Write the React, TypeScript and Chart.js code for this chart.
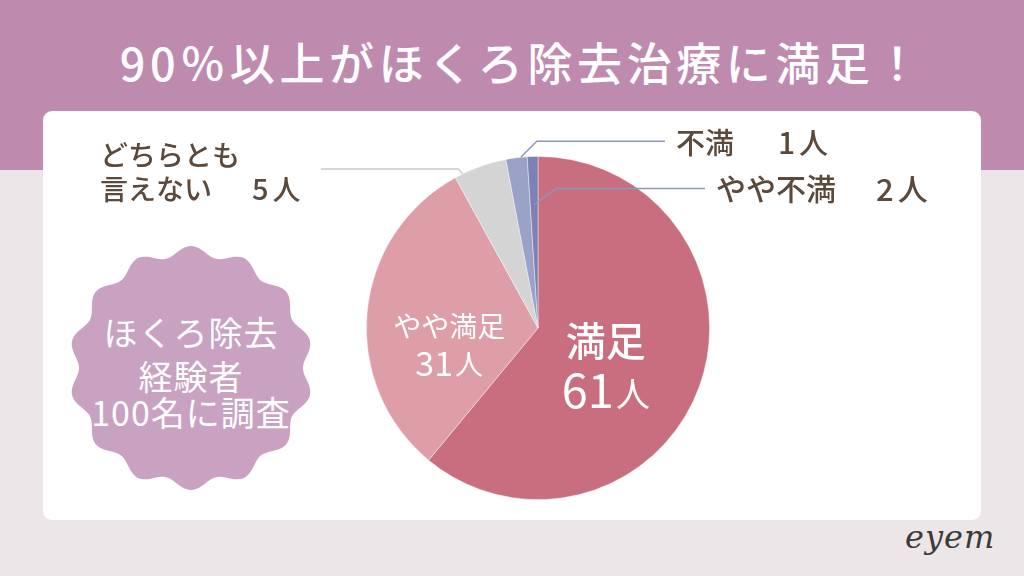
import React, { useEffect, useRef } from "react";
import { Chart, registerables } from "chart.js";

Chart.register(...registerables);

const categories = ["満足", "やや満足", "どちらとも言えない", "やや不満", "不満"];
const counts = [61, 31, 5, 2, 1];
const countLabels = ["61人", "31人", "5人", "2人", "1人"];
const sliceColors = ["#c86e7f", "#dd9ea7", "#d4d4d4", "#9ba2c8", "#7c83b4"];
const titleText = "90％以上がほくろ除去治療に満足！";
const badgeLines = ["ほくろ除去", "経験者", "100名に調査"];

const FONT = '"Noto Sans CJK JP", "Noto Sans", sans-serif';
const TEXT_COLOR = "#5b4a3b";
const LINE_BLUE = "#8e96c2";
const LINE_GRAY = "#c9c9c9";

function scallopPath(cx: number, cy: number, r: number, amp: number, n: number) {
  const pts: string[] = [];
  const steps = 360;
  for (let i = 0; i <= steps; i++) {
    const t = (i / steps) * Math.PI * 2;
    const rr = r + amp * Math.cos(n * t);
    const x = cx + rr * Math.cos(t - Math.PI / 2);
    const y = cy + rr * Math.sin(t - Math.PI / 2);
    pts.push(`${i === 0 ? "M" : "L"}${x.toFixed(2)},${y.toFixed(2)}`);
  }
  return pts.join(" ") + " Z";
}

const labelPlugin = {
  id: "pieLabels",
  afterDatasetsDraw(chart: any) {
    const ctx = chart.ctx as CanvasRenderingContext2D;
    const meta = chart.getDatasetMeta(0);
    const arcs = meta.data as any[];
    const pt = (i: number, frac: number, rf: number) => {
      const a = arcs[i];
      const ang = a.startAngle + frac * (a.endAngle - a.startAngle);
      return { x: a.x + Math.cos(ang) * a.outerRadius * rf, y: a.y + Math.sin(ang) * a.outerRadius * rf };
    };
    const splitCount = (s: string) => ({ num: s.replace("人", ""), unit: "人" });

    ctx.save();
    ctx.textBaseline = "middle";

    {
      const p = pt(0, 0.5, 0.42);
      ctx.fillStyle = "#ffffff";
      ctx.textAlign = "center";
      ctx.font = `500 40px ${FONT}`;
      ctx.fillText(categories[0], p.x, p.y - 12);
      const { num, unit } = splitCount(countLabels[0]);
      ctx.font = `400 47px ${FONT}`;
      const w1 = ctx.measureText(num).width;
      ctx.font = `400 34px ${FONT}`;
      const w2 = ctx.measureText(unit).width;
      const sx = p.x - (w1 + w2 + 2) / 2;
      ctx.textAlign = "left";
      ctx.textBaseline = "alphabetic";
      ctx.font = `400 47px ${FONT}`;
      ctx.fillText(num, sx, p.y + 56);
      ctx.font = `400 34px ${FONT}`;
      ctx.fillText(unit, sx + w1 + 2, p.y + 55);
      ctx.textBaseline = "middle";
    }
    {
      const p = pt(1, 0.5, 0.52);
      ctx.fillStyle = "#ffffff";
      ctx.textAlign = "center";
      ctx.font = `400 28px ${FONT}`;
      ctx.fillText(categories[1], p.x, p.y + 7);
      const { num, unit } = splitCount(countLabels[1]);
      ctx.font = `400 34px ${FONT}`;
      const w1 = ctx.measureText(num).width;
      ctx.font = `400 28px ${FONT}`;
      const w2 = ctx.measureText(unit).width;
      const sx = p.x - (w1 + w2 + 2) / 2;
      ctx.textAlign = "left";
      ctx.textBaseline = "alphabetic";
      ctx.font = `400 34px ${FONT}`;
      ctx.fillText(num, sx, p.y + 56);
      ctx.font = `400 28px ${FONT}`;
      ctx.fillText(unit, sx + w1 + 2, p.y + 55);
      ctx.textBaseline = "middle";
    }

    ctx.lineWidth = 1.5;
    const line = (color: string, pts: { x: number; y: number }[]) => {
      ctx.strokeStyle = color;
      ctx.beginPath();
      pts.forEach((q, k) => (k === 0 ? ctx.moveTo(q.x, q.y) : ctx.lineTo(q.x, q.y)));
      ctx.stroke();
    };
    {
      const a = pt(2, 0.15, 1.0);
      const e = { x: a.x - 4, y: a.y - 5 };
      line(LINE_GRAY, [a, e, { x: 321, y: e.y }]);
    }
    {
      const a = pt(3, 0.7, 1.0);
      const e = { x: a.x + 16, y: a.y - 16 };
      line(LINE_BLUE, [a, e, { x: 665, y: e.y }]);
    }
    {
      const a = pt(4, 0.5, 0.72);
      const e = { x: a.x + 22, y: a.y - 16 };
      line(LINE_BLUE, [a, e, { x: 705, y: e.y }]);
    }

    const outside = (name: string, count: string, x: number, y: number, gap: number, size: number) => {
      ctx.fillStyle = TEXT_COLOR;
      ctx.textAlign = "left";
      ctx.font = `500 ${size}px ${FONT}`;
      ctx.fillText(name, x, y);
      const w = ctx.measureText(name).width;
      const { num, unit } = splitCount(count);
      ctx.font = `500 ${size + 1}px ${FONT}`;
      ctx.fillText(num, x + w + gap, y);
      const wn = ctx.measureText(num).width;
      ctx.font = `500 ${size}px ${FONT}`;
      ctx.fillText(unit, x + w + gap + wn + 4, y);
    };
    outside(categories[4], countLabels[4], 676, 143, 44, 29);
    outside(categories[3], countLabels[3], 716, 189, 40, 30);
    ctx.fillStyle = TEXT_COLOR;
    ctx.font = `500 28px ${FONT}`;
    ctx.textAlign = "left";
    ctx.fillText("どちらとも", 100, 155);
    outside("言えない", countLabels[2], 100, 189, 40, 28);

    ctx.restore();
  },
};

export default function App() {
  const canvasRef = useRef<HTMLCanvasElement | null>(null);

  useEffect(() => {
    document.body.style.margin = "0";
    const canvas = canvasRef.current;
    if (!canvas) return;
    const chart = new Chart(canvas, {
      type: "pie",
      data: {
        labels: categories,
        datasets: [
          {
            data: counts,
            backgroundColor: sliceColors,
            borderColor: "rgba(255,255,255,0.5)",
            borderWidth: 0.8,
          },
        ],
      },
      options: {
        animation: false,
        responsive: false,
        maintainAspectRatio: false,
        layout: { padding: { left: 366, right: 314, top: 156, bottom: 76 } },
        plugins: { legend: { display: false }, tooltip: { enabled: false } },
      },
      plugins: [labelPlugin],
    });
    return () => chart.destroy();
  }, []);

  return (
    <div style={{ position: "relative", width: 1024, height: 576, overflow: "hidden", background: "#ede6e8", fontFamily: FONT }}>
      <div style={{ position: "absolute", left: 0, top: 0, width: 1024, height: 170, background: "#be8baf" }} />
      <div
        style={{
          position: "absolute",
          left: 10,
          top: 36,
          width: 1024,
          textAlign: "center",
          color: "#ffffff",
          fontSize: 45,
          fontWeight: 500,
          letterSpacing: 4.6,
          lineHeight: "52px",
        }}
      >
        {titleText}
      </div>
      <div style={{ position: "absolute", left: 43, top: 111, width: 938, height: 409, background: "#ffffff", borderRadius: 9 }} />
      <svg style={{ position: "absolute", left: 0, top: 0 }} width={1024} height={576}>
        <path d={scallopPath(191, 368, 117, 5, 14)} fill="#c9a2c1" />
      </svg>
      {badgeLines.map((t, i) => (
        <div
          key={i}
          style={{
            position: "absolute",
            left: 66,
            width: 250,
            top: [311, 355, 391][i],
            textAlign: "center",
            color: "#ffffff",
            fontSize: 34,
            letterSpacing: 1,
            lineHeight: "42px",
            whiteSpace: "nowrap",
          }}
        >
          {t}
        </div>
      ))}
      <div
        style={{
          position: "absolute",
          left: 905,
          top: 518,
          color: "#3a3a3a",
          fontFamily: '"DejaVu Serif", serif',
          fontStyle: "italic",
          fontSize: 32,
          fontWeight: 300,
          letterSpacing: 1,
        }}
      >
        eyem
      </div>
      <canvas ref={canvasRef} width={1024} height={576} style={{ position: "absolute", left: 0, top: 0, width: 1024, height: 576 }} />
    </div>
  );
}
